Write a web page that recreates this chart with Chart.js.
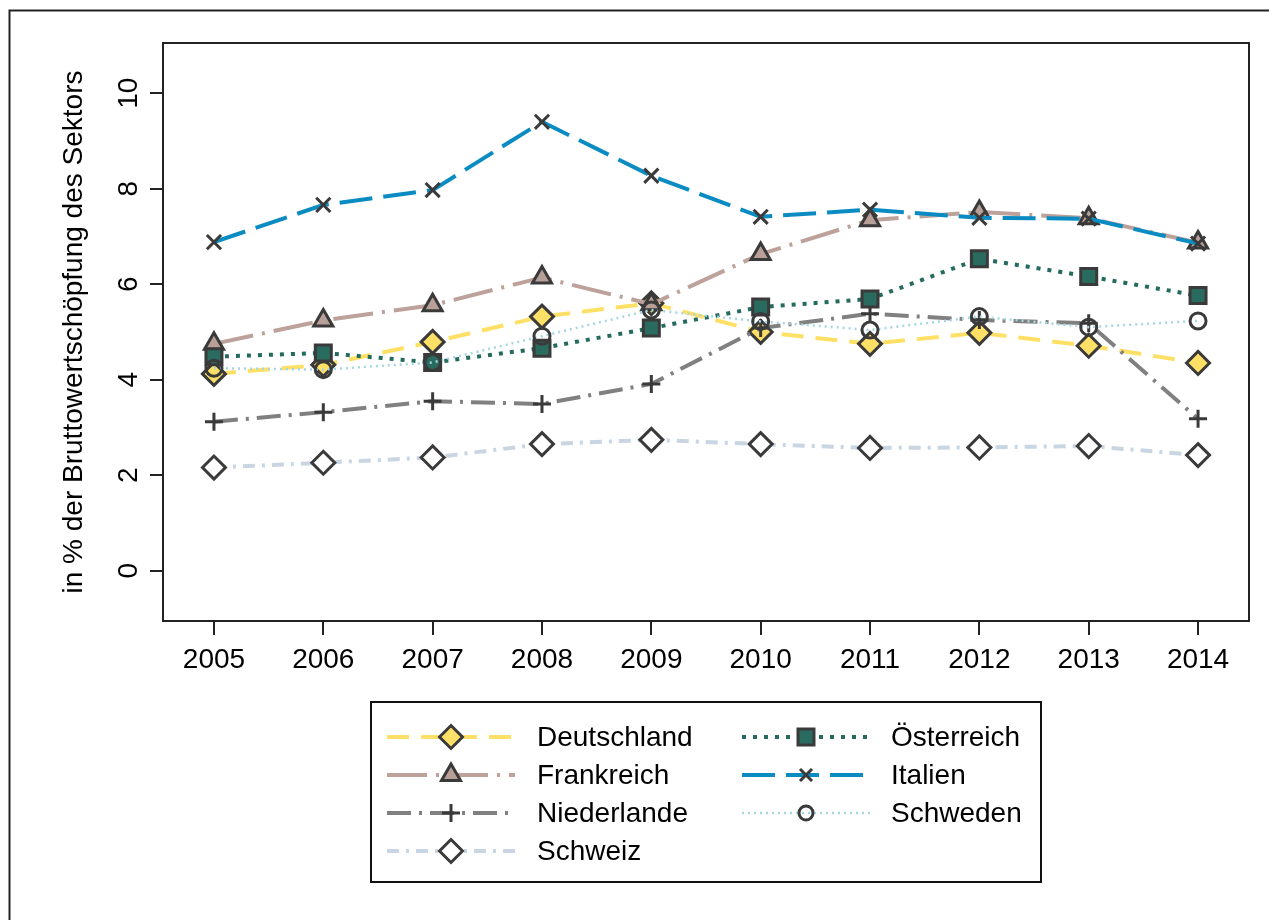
<!DOCTYPE html>
<html><head><meta charset="utf-8">
<script src="https://cdn.jsdelivr.net/npm/chart.js@4.4.0/dist/chart.umd.min.js"></script>
<style>html,body{margin:0;padding:0;background:#fff;}canvas{display:block;}</style>
</head><body>
<canvas id="c" width="1269" height="920"></canvas>
<script>
// ---- data ----
const years = [2005, 2006, 2007, 2008, 2009, 2010, 2011, 2012, 2013, 2014];
const yTicks = [0, 2, 4, 6, 8, 10];
const yTitle = 'in % der Bruttowertschöpfung des Sektors';
const deutschland = [4.12, 4.31, 4.79, 5.32, 5.60, 5.00, 4.75, 4.98, 4.71, 4.35];
const frankreich  = [4.75, 5.24, 5.56, 6.14, 5.58, 6.63, 7.34, 7.51, 7.38, 6.87];
const niederlande = [3.12, 3.32, 3.55, 3.49, 3.91, 5.08, 5.38, 5.25, 5.18, 3.18];
const schweiz     = [2.16, 2.26, 2.37, 2.65, 2.74, 2.65, 2.57, 2.58, 2.61, 2.42];
const oesterreich = [4.48, 4.56, 4.36, 4.66, 5.08, 5.52, 5.69, 6.53, 6.16, 5.76];
const italien     = [6.88, 7.66, 7.97, 9.40, 8.27, 7.41, 7.56, 7.39, 7.37, 6.85];
const schweden    = [4.24, 4.21, 4.36, 4.91, 5.46, 5.22, 5.04, 5.32, 5.10, 5.23];

const OUT = '#3a3a3a';
const FONT = '28px "Liberation Sans", Arial, sans-serif';
const pts = arr => years.map((y, i) => ({x: y, y: arr[i]}));

function ds(label, arr, color, dash, width, style, radius, fill, order) {
  return {
    label, data: pts(arr), borderColor: color, borderDash: dash, borderWidth: width,
    borderCapStyle: 'butt', tension: 0, fill: false,
    pointStyle: style, pointRadius: radius, pointBackgroundColor: fill,
    pointBorderColor: OUT, pointBorderWidth: 3, pointHoverRadius: radius, order
  };
}

const datasets = [
  ds('Deutschland', deutschland, '#FFE066', [22, 12], 4, 'rectRot', 11.5, '#FFE066', 7),
  ds('Frankreich', frankreich, '#BCA29B', [40, 9, 3, 9], 4, 'triangle', 11, '#B89F98', 6),
  ds('Italien', italien, '#0A8CC2', [33, 11], 4, 'crossRot', 10, OUT, 5),
  ds('Niederlande', niederlande, '#808080', [24, 8, 3, 8], 4, 'cross', 9, OUT, 4),
  ds('Österreich', oesterreich, '#246B5E', [4, 7], 4, 'rect', 11.3, '#2A6B60', 3),
  ds('Schweden', schweden, '#A6D5E4', [2, 4], 2.5, 'circle', 8, 'rgba(0,0,0,0)', 2),
  ds('Schweiz', schweiz, '#C9D5E2', [12, 7, 3, 7], 4, 'rectRot', 11.5, '#FFFFFF', 1)
];

// legend layout (column-wise, as in the reference)
const legendOrder = [['Deutschland', 'Frankreich', 'Niederlande', 'Schweiz'], ['Österreich', 'Italien', 'Schweden']];

function drawMarker(ctx, style, r, x, y) {
  ctx.beginPath();
  if (style === 'circle') { ctx.arc(x, y, r, 0, Math.PI * 2); }
  else if (style === 'rect') { const s = r * Math.SQRT1_2; ctx.rect(x - s, y - s, 2 * s, 2 * s); }
  else if (style === 'rectRot') { ctx.moveTo(x, y - r); ctx.lineTo(x + r, y); ctx.lineTo(x, y + r); ctx.lineTo(x - r, y); ctx.closePath(); }
  else if (style === 'triangle') {
    let a = 0; ctx.moveTo(x + Math.sin(a) * r, y - Math.cos(a) * r);
    a += 2 * Math.PI / 3; ctx.lineTo(x + Math.sin(a) * r, y - Math.cos(a) * r);
    a += 2 * Math.PI / 3; ctx.lineTo(x + Math.sin(a) * r, y - Math.cos(a) * r); ctx.closePath();
  }
  else if (style === 'cross') { ctx.moveTo(x, y - r); ctx.lineTo(x, y + r); ctx.moveTo(x - r, y); ctx.lineTo(x + r, y); }
  else if (style === 'crossRot') { const s = r * Math.SQRT1_2; ctx.moveTo(x - s, y - s); ctx.lineTo(x + s, y + s); ctx.moveTo(x + s, y - s); ctx.lineTo(x - s, y + s); }
  if (style !== 'cross' && style !== 'crossRot') ctx.fill();
  ctx.stroke();
}

const decor = {
  id: 'decor',
  afterDraw(chart) {
    const ctx = chart.ctx, a = chart.chartArea, xs = chart.scales.x, ys = chart.scales.y;
    ctx.save();
    ctx.setLineDash([]);
    ctx.strokeStyle = '#222'; ctx.lineWidth = 2;
    // outer frame
    ctx.strokeRect(9.5, 10.5, 1300, 1000);
    // plot box
    ctx.strokeRect(a.left, a.top, a.right - a.left, a.bottom - a.top);
    // x ticks + labels
    ctx.fillStyle = '#000'; ctx.font = FONT; ctx.textAlign = 'center'; ctx.textBaseline = 'alphabetic';
    ctx.beginPath();
    years.forEach(v => { const px = Math.round(xs.getPixelForValue(v)); ctx.moveTo(px, a.bottom); ctx.lineTo(px, a.bottom + 14); });
    yTicks.forEach(v => { const py = Math.round(ys.getPixelForValue(v)); ctx.moveTo(a.left, py); ctx.lineTo(a.left - 13, py); });
    ctx.stroke();
    years.forEach(v => ctx.fillText(String(v), xs.getPixelForValue(v), 668));
    yTicks.forEach(v => {
      ctx.save(); ctx.translate(137, ys.getPixelForValue(v)); ctx.rotate(-Math.PI / 2);
      ctx.fillText(String(v), 0, 0); ctx.restore();
    });
    // y title
    ctx.save(); ctx.translate(82, (a.top + a.bottom) / 2); ctx.rotate(-Math.PI / 2);
    ctx.fillText(yTitle, 0, 0); ctx.restore();
    // legend box
    ctx.strokeStyle = '#111'; ctx.lineWidth = 2;
    ctx.strokeRect(371, 702, 670, 180);
    const colX = [{x0: 387, x1: 515, m: 451, t: 537}, {x0: 742, x1: 870, m: 806, t: 891}];
    const rowY = [737, 775, 813, 851];
    ctx.textAlign = 'left'; ctx.textBaseline = 'middle';
    legendOrder.forEach((col, ci) => col.forEach((name, ri) => {
      const d = datasets.find(s => s.label === name);
      const c = colX[ci], y = rowY[ri];
      ctx.save();
      ctx.strokeStyle = d.borderColor; ctx.lineWidth = d.borderWidth; ctx.setLineDash(d.borderDash); ctx.lineCap = 'butt';
      ctx.beginPath(); ctx.moveTo(c.x0, y); ctx.lineTo(c.x1, y); ctx.stroke();
      ctx.setLineDash([]);
      ctx.fillStyle = d.pointBackgroundColor; ctx.strokeStyle = OUT; ctx.lineWidth = 3;
      const r = d.pointStyle === 'circle' ? 7 : (d.pointStyle === 'crossRot' ? 8.5 : d.pointRadius);
      drawMarker(ctx, d.pointStyle, r, c.m, y);
      ctx.restore();
      ctx.fillStyle = '#000'; ctx.font = FONT;
      ctx.fillText(name, c.t, y + 1);
    }));
    ctx.restore();
  }
};

new Chart(document.getElementById('c'), {
  type: 'line',
  data: {datasets},
  options: {
    responsive: false, animation: false, devicePixelRatio: 1,
    layout: {padding: {left: 163, top: 43, right: 20, bottom: 299}},
    plugins: {legend: {display: false}, tooltip: {enabled: false}},
    events: [],
    scales: {
      x: {type: 'linear', display: false, min: 2004.534, max: 2014.466},
      y: {type: 'linear', display: false, min: -1.054, max: 11.05}
    }
  },
  plugins: [decor]
});
</script>
</body></html>
